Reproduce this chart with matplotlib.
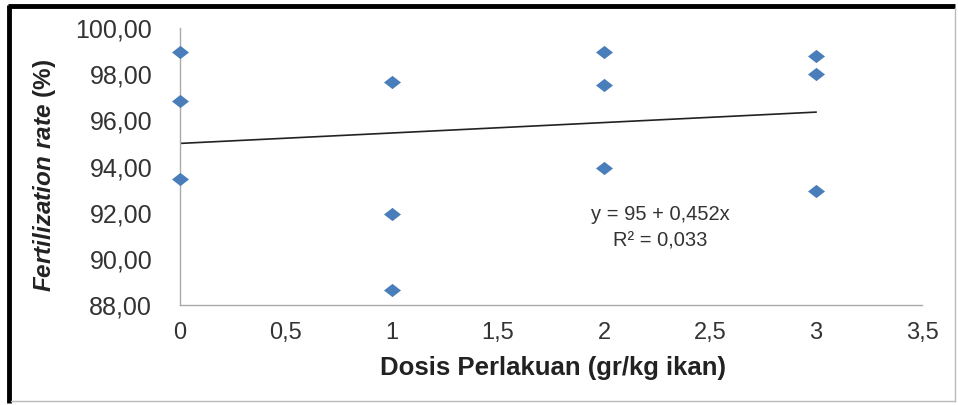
import matplotlib
matplotlib.use("Agg")
import matplotlib.pyplot as plt
from matplotlib.lines import Line2D

dose = [0, 0, 0, 1, 1, 1, 2, 2, 2, 3, 3, 3]
fert = [98.95, 96.85, 93.45, 97.65, 91.95, 88.65, 98.95, 97.55, 93.95, 98.8, 98.0, 92.95]
intercept = 95.0
slope = 0.452
trend_x = [0, 3]
xticks = [0, 0.5, 1, 1.5, 2, 2.5, 3, 3.5]
yticks = [88, 90, 92, 94, 96, 98, 100]

def fmt(v, nd):
    return (f"{v:.{nd}f}").replace(".", ",") if nd else f"{v:g}".replace(".", ",")

plt.rcParams['font.family'] = ['Liberation Sans', 'DejaVu Sans']
plt.rcParams['mathtext.fontset'] = 'custom'
plt.rcParams['mathtext.it'] = 'Liberation Sans:italic:bold'
plt.rcParams['mathtext.rm'] = 'Liberation Sans:bold'

fig = plt.figure(figsize=(9.58, 4.05), dpi=100)
W, H = 958, 405
ax = fig.add_axes([180 / W, 1 - 305 / H, (922 - 180) / W, (305 - 28) / H])

ax.scatter(dose, fert, marker=[(-1, 0), (0, 0.78), (1, 0), (0, -0.78)], s=150,
           color='#4A7EBB', zorder=3, linewidths=0, clip_on=False)
ty = [intercept + slope * x for x in trend_x]
ax.plot(trend_x, ty, color='#222222', lw=1.2, zorder=2)

ax.set_xlim(0, 3.5)
ax.set_ylim(88, 100)
ax.set_xticks(xticks)
ax.set_xticklabels([fmt(v, 0) for v in xticks], fontsize=17, color='#333333')
ax.set_yticks(yticks)
ax.set_yticklabels([fmt(v, 2) for v in yticks], fontsize=18, color='#333333')
ax.tick_params(axis='y', length=0, pad=20)
ax.tick_params(axis='x', length=0, pad=12)
for s in ['top', 'right']:
    ax.spines[s].set_visible(False)
for s in ['left', 'bottom']:
    ax.spines[s].set_color('#AAAAAA')
    ax.spines[s].set_linewidth(1.0)

fig.text(553 / W, 1 - 368 / H, 'Dosis Perlakuan (gr/kg ikan)', ha='center', va='center',
         fontsize=18.5, fontweight='bold', color='#222222')
fig.text(45 / W, 1 - 176 / H, r'$\it{Fertilization\ rate}$ (%)', ha='center', va='center',
         rotation=90, fontsize=17.5, color='#222222', fontweight='bold')

fig.text(660 / W, 1 - 215 / H, 'y = 95 + 0,452x', ha='center', va='center',
         fontsize=14.5, color='#333333')
fig.text(660 / W, 1 - 241 / H, 'R² = 0,033', ha='center', va='center',
         fontsize=14.5, color='#333333')

fig.lines.append(Line2D([8 / W, 1 - 3 / W], [1 - 6 / H, 1 - 6 / H], transform=fig.transFigure,
                        color='black', lw=3.5, solid_capstyle='butt'))
fig.lines.append(Line2D([9 / W, 9 / W], [1 - 5 / H, 2 / H], transform=fig.transFigure,
                        color='black', lw=3.5, solid_capstyle='butt'))
fig.lines.append(Line2D([955 / W, 955 / W], [1 - 8 / H, 4 / H], transform=fig.transFigure,
                        color='#BBBBBB', lw=1))
fig.lines.append(Line2D([11 / W, 955 / W], [4 / H, 4 / H], transform=fig.transFigure,
                        color='#BBBBBB', lw=1))

fig.savefig('out.png', dpi=100)
